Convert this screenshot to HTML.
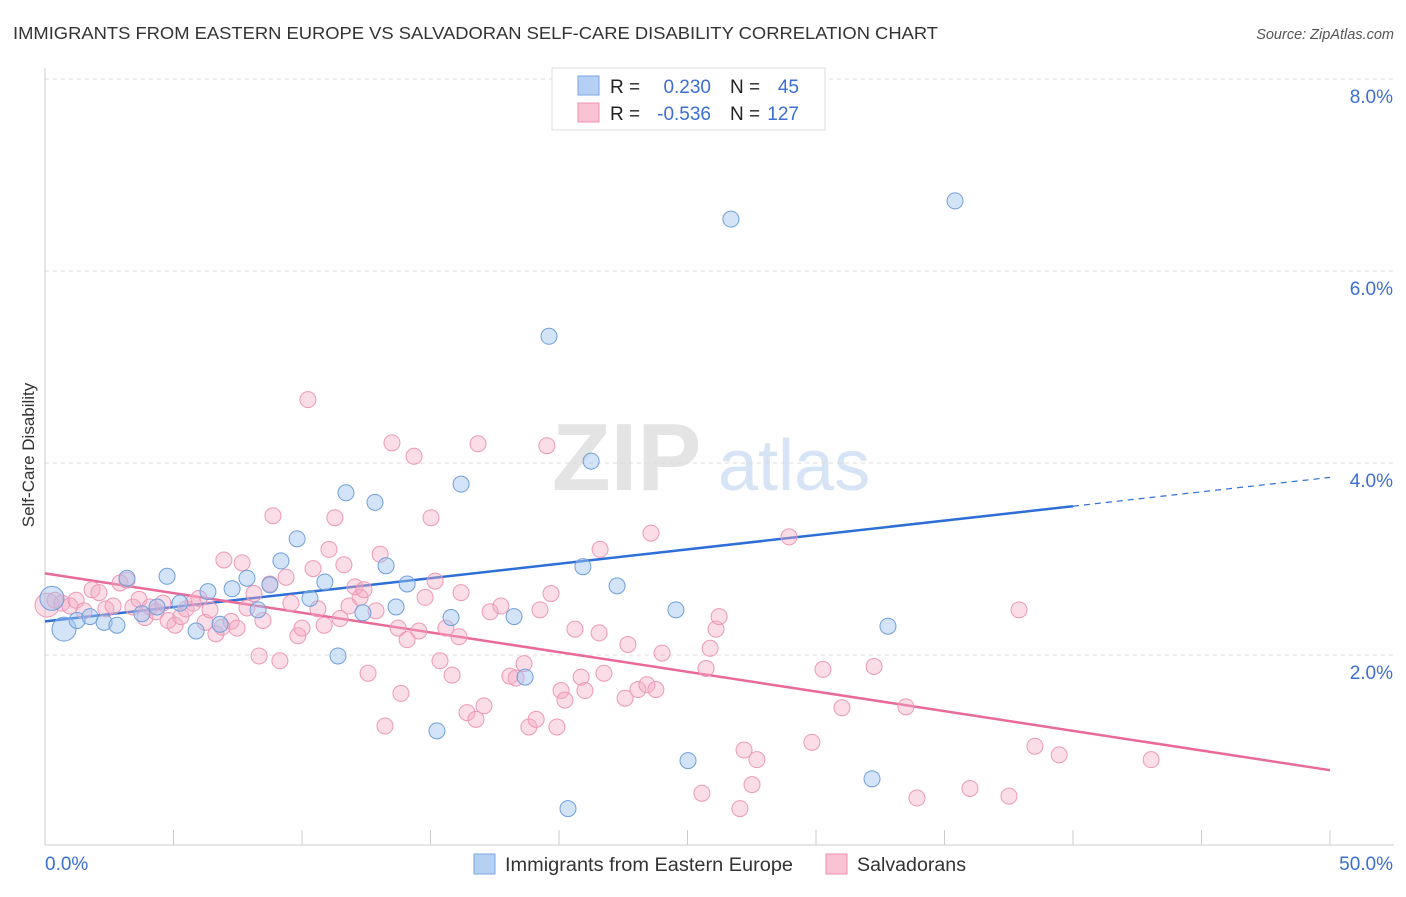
<!DOCTYPE html>
<html><head><meta charset="utf-8"><style>
body{margin:0;background:#fff;font-family:"Liberation Sans",sans-serif;}
svg text{font-family:"Liberation Sans",sans-serif;}
</style></head><body>
<svg id="chart" width="1406" height="892" xmlns="http://www.w3.org/2000/svg">
<text x="13" y="39" font-size="17.5" fill="#333" textLength="925" lengthAdjust="spacingAndGlyphs">IMMIGRANTS FROM EASTERN EUROPE VS SALVADORAN SELF-CARE DISABILITY CORRELATION CHART</text>
<text x="1394" y="39" font-size="14.5" fill="#555" text-anchor="end" font-style="italic">Source: ZipAtlas.com</text>
<text x="552" y="490" font-size="96" fill="#e4e4e4" font-family="Liberation Serif" font-weight="bold">ZIP</text>
<text x="718" y="490" font-size="72" fill="#d7e4f5">atlas</text>
<g id="grid"></g><g id="axes"></g><g id="lines"></g><g id="pts"></g>
<text transform="translate(34,455) rotate(-90)" font-size="17" fill="#333" text-anchor="middle">Self-Care Disability</text>
<g>
<rect x="552" y="68" width="273" height="62" fill="#fff" stroke="#ddd"/>
<rect x="578" y="76" width="21" height="19" fill="#b5d0f3" stroke="#7aa6e0"/>
<rect x="578" y="103" width="21" height="19" fill="#f9c3d3" stroke="#ee90b0"/>
<text x="610" y="93" font-size="19" fill="#222">R =</text>
<text x="711" y="93" font-size="19" fill="#3b6fd4" text-anchor="end">0.230</text>
<text x="730" y="93" font-size="19" fill="#222">N =</text>
<text x="799" y="93" font-size="19" fill="#3b6fd4" text-anchor="end">45</text>
<text x="610" y="120" font-size="19" fill="#222">R =</text>
<text x="711" y="120" font-size="19" fill="#3b6fd4" text-anchor="end">-0.536</text>
<text x="730" y="120" font-size="19" fill="#222">N =</text>
<text x="799" y="120" font-size="19" fill="#3b6fd4" text-anchor="end">127</text>
</g>
<g>
<rect x="474" y="854" width="21" height="20" fill="#b5d0f3" stroke="#7aa6e0"/>
<text x="505" y="871" font-size="19" fill="#333" textLength="288" lengthAdjust="spacingAndGlyphs">Immigrants from Eastern Europe</text>
<rect x="826" y="854" width="21" height="20" fill="#f9c3d3" stroke="#ee90b0"/>
<text x="857" y="871" font-size="19" fill="#333" textLength="109" lengthAdjust="spacingAndGlyphs">Salvadorans</text>
</g>
</svg>
<script>
const blueX=[0.27,0.74,1.25,1.75,2.30,2.80,3.19,3.77,4.36,4.75,5.25,5.88,6.34,6.81,7.28,7.86,8.29,8.75,9.18,9.81,10.31,10.89,11.40,11.71,12.37,12.84,13.27,13.66,14.09,15.25,15.80,16.19,18.25,18.68,19.61,20.35,20.93,21.25,22.26,24.55,25.02,26.69,32.18,32.80,35.41];
const blueY=[2.59,2.27,2.36,2.40,2.34,2.31,2.80,2.43,2.50,2.82,2.54,2.25,2.66,2.32,2.69,2.80,2.47,2.73,2.98,3.21,2.59,2.76,1.99,3.69,2.44,3.59,2.93,2.50,2.74,1.21,2.39,3.78,2.40,1.77,5.32,0.40,2.92,4.02,2.72,2.47,0.90,6.54,0.71,2.30,6.73];
const pinkX=[0.08,0.39,0.66,0.97,1.21,1.52,1.83,2.10,2.37,2.65,2.92,3.19,3.42,3.66,3.89,4.09,4.32,4.59,4.79,5.06,5.29,5.49,5.76,5.99,6.23,6.42,6.65,6.89,6.96,7.24,7.47,7.67,7.86,8.13,8.33,8.48,8.75,8.87,9.14,9.38,9.57,9.84,10.00,10.23,10.43,10.62,10.86,11.05,11.28,11.48,11.63,11.83,12.06,12.26,12.41,12.57,12.88,13.04,13.23,13.50,13.74,13.85,14.09,14.36,14.55,14.79,15.02,15.18,15.37,15.60,15.84,16.11,16.19,16.42,16.77,16.85,17.08,17.32,17.74,18.09,18.33,18.64,18.83,19.11,19.26,19.53,19.69,19.92,20.08,20.23,20.62,20.86,21.01,21.56,21.60,21.75,22.57,22.68,23.07,23.42,23.58,23.77,24.01,25.56,25.72,25.88,26.11,26.23,27.04,27.20,27.51,27.70,28.95,29.84,30.27,31.01,32.26,33.50,33.93,35.99,37.51,37.90,38.52,39.46,43.04];
const pinkY=[2.52,2.57,2.54,2.51,2.57,2.46,2.68,2.65,2.48,2.51,2.75,2.78,2.50,2.58,2.39,2.50,2.45,2.54,2.36,2.31,2.40,2.48,2.54,2.59,2.34,2.47,2.22,2.29,2.99,2.35,2.28,2.96,2.49,2.64,1.99,2.36,2.74,3.45,1.94,2.81,2.54,2.20,2.28,4.66,2.90,2.48,2.31,3.10,3.43,2.38,2.94,2.51,2.71,2.60,2.68,1.81,2.46,3.05,1.26,4.21,2.28,1.60,2.16,4.07,2.25,2.60,3.43,2.77,1.94,2.28,1.79,2.19,2.65,1.40,1.33,4.20,1.47,2.45,2.51,1.78,1.76,1.91,1.25,1.33,2.47,4.18,2.64,1.25,1.63,1.53,2.27,1.77,1.63,2.23,3.10,1.81,1.55,2.11,1.64,1.69,3.27,1.64,2.02,0.56,1.86,2.07,2.27,2.40,0.40,1.01,0.65,0.91,3.23,1.09,1.85,1.45,1.88,1.46,0.51,0.61,0.53,2.47,1.05,0.96,0.91];
const yTicks=[2,4,6,8];
const yTickLabels=["2.0%","4.0%","6.0%","8.0%"];
const blueTrend=[2.35,3.85]; // value at x=0 and x=50
const pinkTrend=[2.85,0.80];
const xs=v=>45+v*25.7, ys=v=>847-v*96;
const NS="http://www.w3.org/2000/svg";
function mk(tag,attrs,parent){const e=document.createElementNS(NS,tag);for(const k in attrs)e.setAttribute(k,attrs[k]);document.getElementById(parent).appendChild(e);return e;}
yTicks.forEach((t,i)=>{
  const l=mk('line',{x1:45,x2:1394,y1:ys(t),y2:ys(t),stroke:'#ddd','stroke-dasharray':'4,4'},'grid');
  
  
  const tx=mk('text',{x:1393,y:ys(t)+24,'font-size':19,fill:'#3b6fd4','text-anchor':'end'},'grid');
  tx.textContent=yTickLabels[i];
  
  
});
let a=mk('line',{x1:45,x2:45,y1:68,y2:845,stroke:'#ccc'},'axes');


a=mk('line',{x1:45,x2:1394,y1:845,y2:845,stroke:'#ccc'},'axes');


for(let k=1;k<=10;k++){const t=mk('line',{x1:xs(k*5),x2:xs(k*5),y1:830,y2:845,stroke:'#ccc'},'axes');
  
  }
let tl=mk('text',{x:45,y:870,'font-size':19,fill:'#3b6fd4'},'axes');tl.textContent='0.0%';


tl=mk('text',{x:1393,y:870,'font-size':19,fill:'#3b6fd4','text-anchor':'end'},'axes');tl.textContent='50.0%';


const bAt=x=>blueTrend[0]+(blueTrend[1]-blueTrend[0])*x/50;
let ln=mk('line',{x1:xs(0),y1:ys(bAt(0)),x2:xs(40),y2:ys(bAt(40)),stroke:'#2d6fd6','stroke-width':2.5},'lines');


ln=mk('line',{x1:xs(40),y1:ys(bAt(40)),x2:xs(50),y2:ys(bAt(50)),stroke:'#2d6fd6','stroke-width':1.2,'stroke-dasharray':'6,5'},'lines');


ln=mk('line',{x1:xs(0),y1:ys(pinkTrend[0]),x2:xs(50),y2:ys(pinkTrend[1]),stroke:'#e8699a','stroke-width':2.5},'lines');


pinkX.forEach((x,i)=>{const c=mk('circle',{cx:xs(x),cy:ys(pinkY[i]),r:i==0?12:8,fill:'rgba(246,170,196,0.4)',stroke:'#ee98b5','stroke-width':1},'pts');
  
  });
blueX.forEach((x,i)=>{const c=mk('circle',{cx:xs(x),cy:ys(blueY[i]),r:i<2?12:8,fill:'rgba(160,195,240,0.45)',stroke:'#6f9fdc','stroke-width':1},'pts');
  
  });
</script>
</body></html>
